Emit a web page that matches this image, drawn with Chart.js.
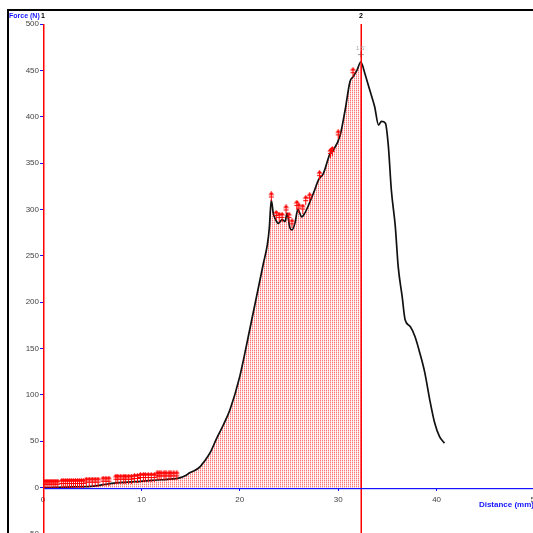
<!DOCTYPE html>
<html><head><meta charset="utf-8">
<script src="https://cdn.jsdelivr.net/npm/chart.js@4.4.0/dist/chart.umd.min.js"></script>
<style>
html,body{margin:0;padding:0;overflow:hidden;background:#fff;width:533px;height:533px}
canvas{display:block}
</style>
</head><body>
<canvas id="c" width="560" height="560"></canvas>
<script>
// Force / distance trace (mm, N)
const distance = [0.0,0.4,1.5,3.0,4.8,6.0,7.0,7.8,9.0,9.9,11.0,12.0,13.2,13.9,14.5,14.9,15.5,16.0,16.3,17.0,17.6,18.3,19.0,20.0,21.0,21.7,22.4,22.8,23.0,23.2,23.4,23.6,23.9,24.3,24.6,24.8,25.1,25.3,25.6,25.9,26.3,26.6,27.0,27.5,28.0,28.5,29.2,29.5,30.2,30.7,31.2,31.5,31.9,32.3,32.7,33.2,33.7,34.1,34.4,34.8,35.1,35.4,35.8,36.1,36.5,36.8,37.3,37.8,38.3,38.8,39.3,39.8,40.3,40.8];
const force    = [0,0,0.3,0.8,1.4,3.0,4.5,5.4,6.2,6.8,7.8,8.5,9.4,10.5,13,16,19,23,27,38,52,67,84,120,170,206,242,262,280,310,296,290,285,289,287,296,280,278,285,300,292,296,305,318,332,339,361,364,380,407,438,443,450,459,447,429,411,391,395,393,368,321,282,238,206,181,174,163,145,124,95,70,55,48];

// Cursor positions (mm)
const cursor1 = 0;
const cursor2 = 32.3;
const peakMarkX = [32.3];
const peakMarkY = [467];

// Event arrows along the low-force section
const lowEventX = [0.1,0.3,0.5,0.7,0.9,1.1,1.3,1.5, 1.9,2.1,2.3,2.5,2.7,2.9,3.1,3.3,3.5,3.7,3.9,4.1, 4.4,4.7,5.0,5.3,5.6, 6.1,6.4,6.7, 7.4,7.6,7.9,8.2,8.4,8.7,9.0, 9.3,9.6, 9.9,10.2,10.4,10.7,11.0,11.3, 11.6,11.8,12.0,12.3,12.5,12.8,13.0,13.3,13.6];
const lowEventY = [4.3,4.3,4.3,4.3,4.3,4.3,4.3,4.3, 5.0,5.0,5.0,5.0,5.0,5.0,5.0,5.0,5.0,5.0,5.0,5.0, 6.5,6.5,6.5,6.5,6.5, 7.5,7.5,7.5, 9.7,9.7,9.7,9.7,9.7,9.7,9.7, 10.4,10.4, 11.5,11.5,11.5,11.5,11.5,11.5, 13.2,13.2,13.2,13.2,13.2,13.2,13.2,13.2,13.2];

// Event arrows along the upper section
const peakEventX = [23.2,23.7,24.0,24.3,24.7,25.0,25.3,25.8,26.0,26.4,26.7,27.1,28.1,29.2,29.4,30.0,31.5];
const peakEventY = [314,294,292,292,300,292,285,305,302,301,310,313,337,361,363,381,448];

const xTickValues = [0,10,20,30,40,50];
const yTickValues = [-50,0,50,100,150,200,250,300,350,400,450,500];

const FONT = "'Liberation Sans', Arial, sans-serif";
const RED = 'rgb(255,0,0)';
const BLUE = 'rgb(20,20,255)';

// hatched fill tile
function hatchPattern(){
  const t = document.createElement('canvas');
  t.width = 2; t.height = 2;
  const g = t.getContext('2d');
  g.fillStyle = '#ff7474'; g.fillRect(0,0,1,1);
  g.fillStyle = '#ffc4c4'; g.fillRect(0,1,1,1);
  g.fillStyle = '#ffeeee'; g.fillRect(1,0,1,1);
  g.fillStyle = '#ffffff'; g.fillRect(1,1,1,1);
  return document.getElementById('c').getContext('2d').createPattern(t,'repeat');
}

// small red up-arrow glyph
function arrowGlyph(){
  const a = document.createElement('canvas');
  a.width = 7; a.height = 10;
  const g = a.getContext('2d');
  g.fillStyle = RED;
  g.fillRect(3, 2, 1, 8);
  g.fillRect(1, 5, 5, 1);
  g.beginPath();
  g.moveTo(3.5, 0); g.lineTo(6.5, 3.5); g.lineTo(0.5, 3.5); g.closePath();
  g.fill();
  return a;
}
const arrow = arrowGlyph();

const pts = (xs, ys) => xs.map((x,i) => ({x, y: ys[i]}));
const curve = pts(distance, force);
const filled = curve.filter(p => p.x <= cursor2);

const decor = {
  id: 'decor',
  beforeDraw(chart){
    const c = chart.ctx;
    c.save();
    c.fillStyle = '#fff';
    c.fillRect(0,0,chart.width,chart.height);
    c.restore();
  },
  afterDatasetsDraw(chart){
    const c = chart.ctx, xs = chart.scales.x, ys = chart.scales.y, a = chart.chartArea;
    c.save();
    // cursor lines
    const x1 = Math.round(xs.getPixelForValue(cursor1));
    const x2 = Math.round(xs.getPixelForValue(cursor2));
    c.fillStyle = RED;
    c.fillRect(x1, a.top, 1.5, chart.height - a.top);
    c.fillRect(x2 - 0.5, a.top, 1.5, chart.height - a.top);
    // zero line
    const y0 = Math.round(ys.getPixelForValue(0));
    c.fillStyle = BLUE;
    c.fillRect(x1 + 1.5, y0, a.right - x1, 1.2);
    // frame
    c.strokeStyle = '#000'; c.lineWidth = 2;
    c.strokeRect(8, 10, 600, 600);
    // titles
    c.font = 'bold 7px ' + FONT;
    c.fillStyle = BLUE;
    c.textBaseline = 'middle';
    c.textAlign = 'left';
    c.fillText('Force (N)', 9, 16);
    c.font = 'bold 8px ' + FONT;
    c.textAlign = 'right';
    c.fillText('Distance (mm)', 534, 505);
    // cursor labels
    c.fillStyle = '#000';
    c.textAlign = 'center';
    c.font = 'bold 7px ' + FONT;
    c.fillText('1', x1, 16);
    c.fillText('2', x2, 16);
    // peak value tag
    c.font = '6px ' + FONT;
    c.fillStyle = '#aaaaaa';
    c.fillText('1.5\'', xs.getPixelForValue(peakMarkX[0]), ys.getPixelForValue(peakMarkY[0]) - 6);
    c.restore();
  }
};

new Chart(document.getElementById('c'), {
  type: 'line',
  data: {
    datasets: [
      { data: pts(peakMarkX, peakMarkY), showLine: false, pointStyle: 'cross', pointRadius: 3, borderColor: '#999', borderWidth: 1, order: 0 },
      { data: pts(lowEventX, lowEventY), showLine: false, pointStyle: arrow, order: 1 },
      { data: pts(peakEventX, peakEventY), showLine: false, pointStyle: arrow, order: 1 },
      { data: curve, borderColor: '#111', borderWidth: 1.7, pointRadius: 0, cubicInterpolationMode: 'monotone', fill: false, order: 2 },
      { data: filled, borderWidth: 0, pointRadius: 0, cubicInterpolationMode: 'monotone', fill: 'origin', backgroundColor: hatchPattern(), order: 3 }
    ]
  },
  options: {
    responsive: false,
    animation: false,
    devicePixelRatio: 1,
    layout: { padding: { top: 24, left: 0, right: 25, bottom: 26 } },
    plugins: { legend: { display: false }, tooltip: { enabled: false } },
    scales: {
      x: {
        type: 'linear', min: 0, max: 50,
        position: { y: 0 },
        afterBuildTicks: s => { s.ticks = xTickValues.map(v => ({ value: v })); },
        ticks: { color: '#444', font: { size: 8, family: FONT }, padding: 4, maxRotation: 0 },
        grid: { drawOnChartArea: false, drawTicks: true, tickLength: 3, color: BLUE },
        border: { display: false }
      },
      y: {
        type: 'linear', min: -50, max: 500,
        afterBuildTicks: s => { s.ticks = yTickValues.map(v => ({ value: v })); },
        afterFit: s => { s.width = 43; },
        ticks: { color: '#444', font: { size: 8, family: FONT }, padding: 1 },
        grid: { drawOnChartArea: false, drawTicks: true, tickLength: 3, color: BLUE },
        border: { display: false }
      }
    }
  },
  plugins: [decor]
});
</script>
</body></html>
